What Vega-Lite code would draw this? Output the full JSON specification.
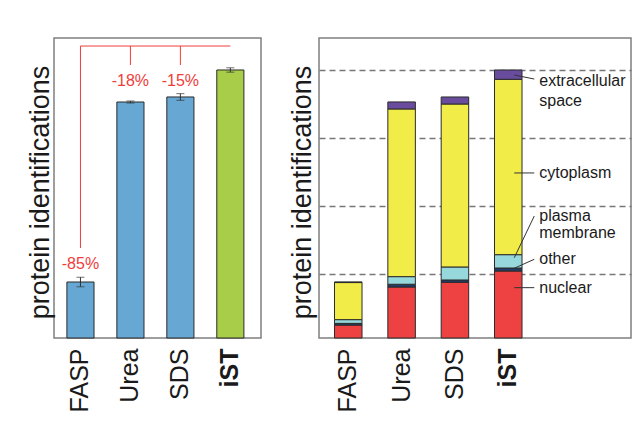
{
  "$schema": "https://vega.github.io/schema/vega-lite/v6.json",
  "padding": {"left": 25, "top": 37, "right": 2, "bottom": 5},
  "background": "white",
  "spacing": 25,
  "config": {
    "font": "Liberation Sans",
    "view": {"stroke": "#7f7f7f", "strokeWidth": 1.5},
    "axis": {"labelFont": "Liberation Sans", "titleFont": "Liberation Sans"}
  },
  "resolve": {"scale": {"color": "independent", "x": "independent", "y": "independent"}},
  "datasets": {
    "totals": [
      {"method": "FASP", "ids": 823, "lo": 753, "hi": 893},
      {"method": "Urea", "ids": 3469, "lo": 3454, "hi": 3484},
      {"method": "SDS", "ids": 3543, "lo": 3494, "hi": 3592},
      {"method": "iST", "ids": 3940, "lo": 3908, "hi": 3972}
    ],
    "bracket": [
      {"a": "FASP", "b": "iST", "y1": 4292, "y2": 4292},
      {"a": "FASP", "b": "FASP", "y1": 4292, "y2": 1323},
      {"a": "Urea", "b": "Urea", "y1": 4292, "y2": 4013},
      {"a": "SDS", "b": "SDS", "y1": 4292, "y2": 4013}
    ],
    "loss": [
      {"method": "FASP", "label": "-85%", "at": 1088},
      {"method": "Urea", "label": "-18%", "at": 3778},
      {"method": "SDS", "label": "-15%", "at": 3778}
    ],
    "parts": [
      {"method": "FASP", "part": "nuclear", "o": 1, "n": 190},
      {"method": "FASP", "part": "other", "o": 2, "n": 25},
      {"method": "FASP", "part": "plasma membrane", "o": 3, "n": 55},
      {"method": "FASP", "part": "cytoplasm", "o": 4, "n": 545},
      {"method": "FASP", "part": "extracellular space", "o": 5, "n": 10},
      {"method": "Urea", "part": "nuclear", "o": 1, "n": 750},
      {"method": "Urea", "part": "other", "o": 2, "n": 40},
      {"method": "Urea", "part": "plasma membrane", "o": 3, "n": 112},
      {"method": "Urea", "part": "cytoplasm", "o": 4, "n": 2465},
      {"method": "Urea", "part": "extracellular space", "o": 5, "n": 103},
      {"method": "SDS", "part": "nuclear", "o": 1, "n": 819},
      {"method": "SDS", "part": "other", "o": 2, "n": 34},
      {"method": "SDS", "part": "plasma membrane", "o": 3, "n": 191},
      {"method": "SDS", "part": "cytoplasm", "o": 4, "n": 2396},
      {"method": "SDS", "part": "extracellular space", "o": 5, "n": 103},
      {"method": "iST", "part": "nuclear", "o": 1, "n": 985},
      {"method": "iST", "part": "other", "o": 2, "n": 44},
      {"method": "iST", "part": "plasma membrane", "o": 3, "n": 196},
      {"method": "iST", "part": "cytoplasm", "o": 4, "n": 2578},
      {"method": "iST", "part": "extracellular space", "o": 5, "n": 137}
    ],
    "leaders": [
      {"method": "iST", "y1": 3866, "y2": 3807},
      {"method": "iST", "y1": 2426, "y2": 2426},
      {"method": "iST", "y1": 1180, "y2": 1793},
      {"method": "iST", "y1": 1025, "y2": 1157},
      {"method": "iST", "y1": 740, "y2": 740}
    ],
    "callouts": [
      {"method": "iST", "text": "extracellular", "at": 3778},
      {"method": "iST", "text": "space", "at": 3484},
      {"method": "iST", "text": "cytoplasm", "at": 2426},
      {"method": "iST", "text": "plasma", "at": 1793},
      {"method": "iST", "text": "membrane", "at": 1544},
      {"method": "iST", "text": "other", "at": 1161},
      {"method": "iST", "text": "nuclear", "at": 735}
    ]
  },
  "hconcat": [
    {
      "width": 207,
      "height": 300,
      "layer": [
        {
          "data": {"name": "totals"},
          "mark": {"type": "bar", "stroke": "#2b2b2b", "strokeWidth": 1},
          "encoding": {
            "x": {
              "field": "method", "type": "nominal", "sort": null,
              "scale": {"domain": ["FASP", "Urea", "SDS", "iST"], "paddingInner": 0.457, "paddingOuter": 0.3, "align": 0.43},
              "axis": {
                "title": null, "domain": false, "ticks": false, "labelAngle": -90, "labelPadding": 10,
                "labelFontSize": 25, "labelColor": "#1a1a1a",
                "labelFontWeight": {"condition": {"test": "datum.value === 'iST'", "value": "bold"}, "value": "normal"}
              }
            },
            "y": {
              "field": "ids", "type": "quantitative", "title": "protein identifications",
              "scale": {"domain": [0, 4410], "nice": false},
              "axis": {"grid": false, "labels": false, "ticks": false, "domain": false, "minExtent": 0, "titlePadding": 0, "titleY": 154, "titleFontSize": 27, "titleFontWeight": "normal", "titleColor": "#1a1a1a"}
            },
            "color": {
              "field": "method", "type": "nominal",
              "scale": {"domain": ["FASP", "Urea", "SDS", "iST"], "range": ["#66a7d3", "#66a7d3", "#66a7d3", "#a8cd48"]},
              "legend": null
            }
          }
        },
        {
          "data": {"name": "totals"},
          "mark": {"type": "rule", "color": "#333333", "strokeWidth": 1},
          "encoding": {
            "x": {"field": "method", "type": "nominal", "sort": null},
            "y": {"field": "lo", "type": "quantitative", "title": "protein identifications"},
            "y2": {"field": "hi"}
          }
        },
        {
          "data": {"name": "totals"},
          "mark": {"type": "tick", "color": "#333333", "size": 8, "thickness": 1},
          "encoding": {
            "x": {"field": "method", "type": "nominal", "sort": null},
            "y": {"field": "lo", "type": "quantitative", "title": "protein identifications"}
          }
        },
        {
          "data": {"name": "totals"},
          "mark": {"type": "tick", "color": "#333333", "size": 8, "thickness": 1},
          "encoding": {
            "x": {"field": "method", "type": "nominal", "sort": null},
            "y": {"field": "hi", "type": "quantitative", "title": "protein identifications"}
          }
        },
        {
          "data": {"name": "bracket"},
          "mark": {"type": "rule", "color": "#f03c3c", "strokeWidth": 1},
          "encoding": {
            "x": {"field": "a", "type": "nominal", "sort": null},
            "x2": {"field": "b"},
            "y": {"field": "y1", "type": "quantitative", "title": "protein identifications"},
            "y2": {"field": "y2"}
          }
        },
        {
          "data": {"name": "loss"},
          "mark": {"type": "text", "color": "#f03c3c", "fontSize": 16, "baseline": "middle", "align": "center"},
          "encoding": {
            "x": {"field": "method", "type": "nominal", "sort": null},
            "y": {"field": "at", "type": "quantitative", "title": "protein identifications"},
            "text": {"field": "label"}
          }
        }
      ]
    },
    {
      "width": 312,
      "height": 300,
      "layer": [
        {
          "data": {"name": "parts"},
          "mark": {"type": "bar", "stroke": "#2b2b2b", "strokeWidth": 1},
          "encoding": {
            "x": {
              "field": "method", "type": "nominal", "sort": null,
              "scale": {"domain": ["FASP", "Urea", "SDS", "iST", " "], "paddingInner": 0.484, "paddingOuter": 0.667, "align": 0.218},
              "axis": {
                "title": null, "domain": false, "ticks": false, "labelAngle": -90, "labelPadding": 10,
                "labelFontSize": 25, "labelColor": "#1a1a1a",
                "labelFontWeight": {"condition": {"test": "datum.value === 'iST'", "value": "bold"}, "value": "normal"}
              }
            },
            "y": {
              "field": "n", "type": "quantitative", "stack": "zero", "title": "protein identifications",
              "scale": {"domain": [0, 4410], "nice": false},
              "axis": {
                "grid": true, "values": [941, 1940, 2940, 3940], "gridDash": [6, 4], "gridColor": "#777777", "gridWidth": 1.5,
                "labels": false, "ticks": false, "domain": false, "minExtent": 0, "titlePadding": 3, "titleY": 154, "titleFontSize": 27, "titleFontWeight": "normal", "titleColor": "#1a1a1a"
              }
            },
            "color": {
              "field": "part", "type": "nominal",
              "scale": {
                "domain": ["nuclear", "other", "plasma membrane", "cytoplasm", "extracellular space"],
                "range": ["#ee4242", "#1f3e6c", "#97d8dc", "#f1ec47", "#6a4c9f"]
              },
              "legend": null
            },
            "order": {"field": "o", "type": "quantitative"}
          }
        },
        {
          "data": {"name": "leaders"},
          "mark": {"type": "rule", "color": "#333333", "strokeWidth": 1, "xOffset": 6, "x2Offset": 26},
          "encoding": {
            "x": {"field": "method", "type": "nominal", "sort": null},
            "x2": {"field": "method"},
            "y": {"field": "y1", "type": "quantitative", "title": "protein identifications"},
            "y2": {"field": "y2"}
          }
        },
        {
          "data": {"name": "callouts"},
          "mark": {"type": "text", "color": "#1a1a1a", "fontSize": 16, "align": "left", "baseline": "middle", "dx": 31},
          "encoding": {
            "x": {"field": "method", "type": "nominal", "sort": null},
            "y": {"field": "at", "type": "quantitative", "title": "protein identifications"},
            "text": {"field": "text"}
          }
        }
      ]
    }
  ]
}
